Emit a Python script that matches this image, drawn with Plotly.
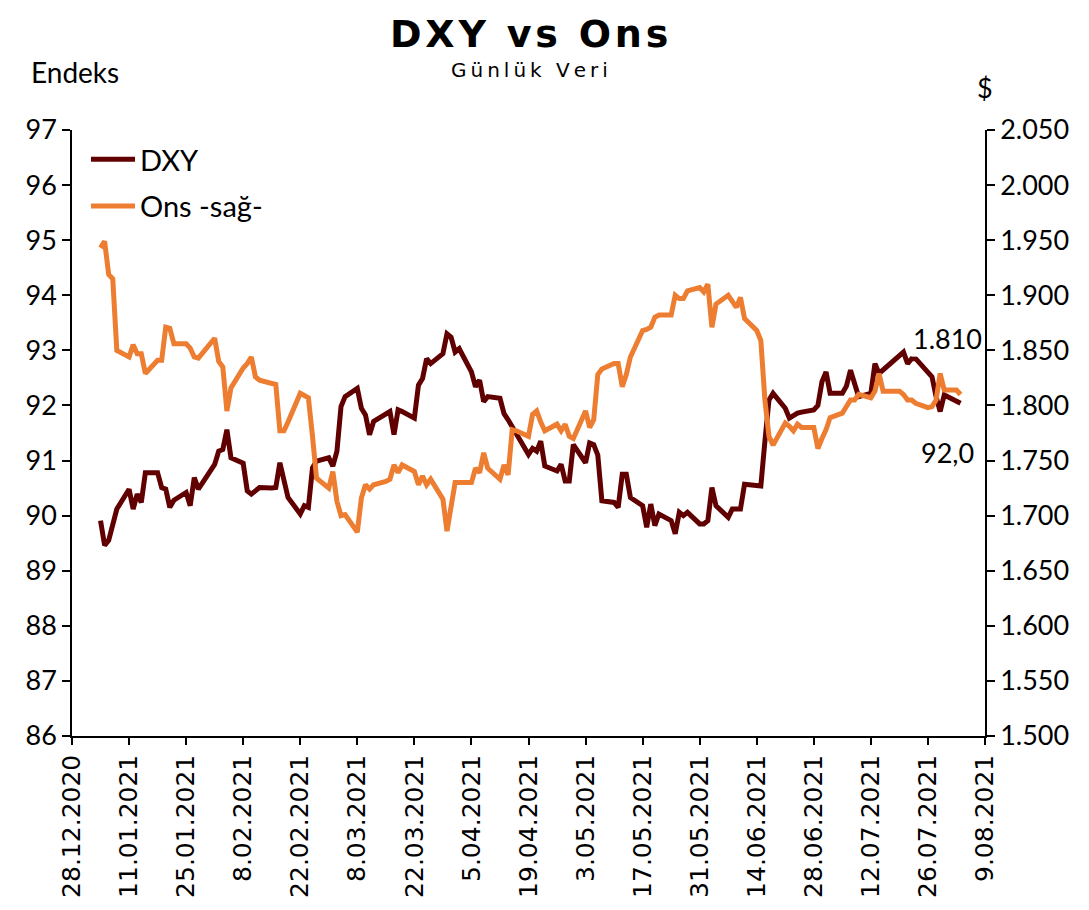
import plotly.graph_objects as go

# ---------------- data ----------------
dxy_dates = [
    "2021-01-04", "2021-01-05", "2021-01-06", "2021-01-08", "2021-01-11", "2021-01-12",
    "2021-01-13", "2021-01-14", "2021-01-15", "2021-01-18", "2021-01-19", "2021-01-20",
    "2021-01-21", "2021-01-22", "2021-01-25", "2021-01-26", "2021-01-27", "2021-01-28",
    "2021-02-01", "2021-02-02", "2021-02-03", "2021-02-04", "2021-02-05", "2021-02-08",
    "2021-02-09", "2021-02-10", "2021-02-11", "2021-02-12", "2021-02-15", "2021-02-16",
    "2021-02-17", "2021-02-18", "2021-02-19", "2021-02-22", "2021-02-23", "2021-02-24",
    "2021-02-25", "2021-02-26", "2021-03-01", "2021-03-02", "2021-03-03", "2021-03-04",
    "2021-03-05", "2021-03-08", "2021-03-09", "2021-03-10", "2021-03-11", "2021-03-12",
    "2021-03-15", "2021-03-16", "2021-03-17", "2021-03-18", "2021-03-19", "2021-03-22",
    "2021-03-23", "2021-03-24", "2021-03-25", "2021-03-26", "2021-03-29", "2021-03-30",
    "2021-03-31", "2021-04-01", "2021-04-02", "2021-04-05", "2021-04-06", "2021-04-07",
    "2021-04-08", "2021-04-09", "2021-04-12", "2021-04-13", "2021-04-14", "2021-04-15",
    "2021-04-16", "2021-04-19", "2021-04-20", "2021-04-21", "2021-04-22", "2021-04-23",
    "2021-04-26", "2021-04-27", "2021-04-28", "2021-04-29", "2021-04-30", "2021-05-03",
    "2021-05-04", "2021-05-05", "2021-05-06", "2021-05-07", "2021-05-10", "2021-05-11",
    "2021-05-12", "2021-05-13", "2021-05-14", "2021-05-17", "2021-05-18", "2021-05-19",
    "2021-05-20", "2021-05-21", "2021-05-24", "2021-05-25", "2021-05-26", "2021-05-27",
    "2021-05-28", "2021-05-31", "2021-06-01", "2021-06-02", "2021-06-03", "2021-06-04",
    "2021-06-07", "2021-06-08", "2021-06-09", "2021-06-10", "2021-06-11", "2021-06-14",
    "2021-06-15", "2021-06-16", "2021-06-17", "2021-06-18", "2021-06-21", "2021-06-22",
    "2021-06-23", "2021-06-24", "2021-06-25", "2021-06-28", "2021-06-29", "2021-06-30",
    "2021-07-01", "2021-07-02", "2021-07-05", "2021-07-06", "2021-07-07", "2021-07-08",
    "2021-07-09", "2021-07-12", "2021-07-13", "2021-07-14", "2021-07-20", "2021-07-21",
    "2021-07-22", "2021-07-23", "2021-07-26", "2021-07-27", "2021-07-28", "2021-07-29",
    "2021-07-30", "2021-08-02", "2021-08-03",
]
dxy_values = [
    89.91, 89.46, 89.55, 90.12, 90.48, 90.12,
    90.39, 90.24, 90.78, 90.78, 90.51, 90.48,
    90.15, 90.28, 90.42, 90.18, 90.69, 90.48,
    90.93, 91.17, 91.20, 91.56, 91.05, 90.95,
    90.45, 90.39, 90.45, 90.51, 90.50, 90.51,
    90.96, 90.63, 90.33, 90.03, 90.18, 90.15,
    90.87, 90.99, 91.05, 90.90, 91.17, 91.98,
    92.16, 92.31, 91.95, 91.83, 91.47, 91.71,
    91.83, 91.89, 91.47, 91.92, 91.89, 91.77,
    92.37, 92.49, 92.85, 92.76, 92.94, 93.30,
    93.24, 92.97, 93.03, 92.61, 92.34, 92.46,
    92.07, 92.16, 92.13, 91.85, 91.74, 91.62,
    91.50, 91.11, 91.22, 91.17, 91.35, 90.90,
    90.81, 90.93, 90.63, 90.63, 91.29, 90.96,
    91.32, 91.29, 91.10, 90.27, 90.24, 90.15,
    90.75, 90.75, 90.33, 90.18, 89.79, 90.21,
    89.82, 90.03, 89.91, 89.67, 90.06, 90.00,
    90.06, 89.85, 89.85, 89.91, 90.51, 90.18,
    89.97, 90.12, 90.12, 90.12, 90.57, 90.55,
    90.54, 91.35, 92.10, 92.22, 91.95, 91.77,
    91.82, 91.86, 91.88, 91.92, 92.00, 92.43,
    92.61, 92.22, 92.22, 92.35, 92.64, 92.40,
    92.16, 92.22, 92.76, 92.58, 92.97, 92.76,
    92.85, 92.85, 92.62, 92.52, 92.16, 91.89,
    92.19, 92.07, 92.04,
]

ons_dates = [
    "2021-01-04", "2021-01-05", "2021-01-06", "2021-01-07", "2021-01-08", "2021-01-11",
    "2021-01-12", "2021-01-13", "2021-01-14", "2021-01-15", "2021-01-18", "2021-01-19",
    "2021-01-20", "2021-01-21", "2021-01-22", "2021-01-25", "2021-01-26", "2021-01-27",
    "2021-01-28", "2021-02-01", "2021-02-02", "2021-02-03", "2021-02-04", "2021-02-05",
    "2021-02-08", "2021-02-09", "2021-02-10", "2021-02-11", "2021-02-12", "2021-02-15",
    "2021-02-16", "2021-02-17", "2021-02-18", "2021-02-19", "2021-02-22", "2021-02-23",
    "2021-02-24", "2021-02-25", "2021-02-26", "2021-03-01", "2021-03-02", "2021-03-03",
    "2021-03-04", "2021-03-05", "2021-03-08", "2021-03-09", "2021-03-10", "2021-03-11",
    "2021-03-12", "2021-03-15", "2021-03-16", "2021-03-17", "2021-03-18", "2021-03-19",
    "2021-03-22", "2021-03-23", "2021-03-24", "2021-03-25", "2021-03-26", "2021-03-29",
    "2021-03-30", "2021-04-01", "2021-04-05", "2021-04-06", "2021-04-07", "2021-04-08",
    "2021-04-09", "2021-04-12", "2021-04-13", "2021-04-14", "2021-04-15", "2021-04-16",
    "2021-04-19", "2021-04-20", "2021-04-21", "2021-04-22", "2021-04-23", "2021-04-26",
    "2021-04-27", "2021-04-28", "2021-04-29", "2021-04-30", "2021-05-03", "2021-05-04",
    "2021-05-05", "2021-05-06", "2021-05-07", "2021-05-10", "2021-05-11", "2021-05-12",
    "2021-05-13", "2021-05-14", "2021-05-17", "2021-05-18", "2021-05-19", "2021-05-20",
    "2021-05-21", "2021-05-24", "2021-05-25", "2021-05-26", "2021-05-27", "2021-05-28",
    "2021-05-31", "2021-06-01", "2021-06-02", "2021-06-03", "2021-06-04", "2021-06-07",
    "2021-06-08", "2021-06-09", "2021-06-10", "2021-06-11", "2021-06-14", "2021-06-15",
    "2021-06-16", "2021-06-17", "2021-06-18", "2021-06-21", "2021-06-22", "2021-06-23",
    "2021-06-24", "2021-06-25", "2021-06-28", "2021-06-29", "2021-06-30", "2021-07-01",
    "2021-07-02", "2021-07-05", "2021-07-06", "2021-07-07", "2021-07-08", "2021-07-09",
    "2021-07-12", "2021-07-13", "2021-07-14", "2021-07-15", "2021-07-16", "2021-07-19",
    "2021-07-20", "2021-07-21", "2021-07-22", "2021-07-23", "2021-07-26", "2021-07-27",
    "2021-07-28", "2021-07-29", "2021-07-30", "2021-08-02", "2021-08-03",
]
ons_values = [
    1943, 1949, 1919, 1915, 1850, 1844,
    1855, 1847, 1847, 1829, 1841, 1841,
    1871, 1870, 1856, 1856, 1852, 1844,
    1843, 1861, 1840, 1835, 1795, 1816,
    1834, 1838, 1844, 1826, 1823, 1820,
    1819, 1777, 1777, 1785, 1811, 1809,
    1807, 1772, 1734, 1725, 1740, 1713,
    1700, 1701, 1685, 1716, 1728, 1724,
    1728, 1731, 1733, 1746, 1739, 1746,
    1740, 1728, 1736, 1728, 1733, 1715,
    1686, 1730, 1730, 1743, 1739, 1757,
    1743, 1733, 1746, 1737, 1778, 1777,
    1772, 1792, 1795, 1785, 1777, 1783,
    1777, 1783, 1772, 1770, 1795, 1780,
    1787, 1828, 1833, 1838, 1838, 1817,
    1828, 1844, 1868, 1869, 1871, 1880,
    1882, 1882, 1900, 1897, 1897, 1904,
    1907, 1903, 1910, 1871, 1892, 1900,
    1894, 1889, 1898, 1879, 1868, 1859,
    1805, 1772, 1764, 1784, 1781, 1777,
    1783, 1780, 1780, 1761, 1770, 1778,
    1789, 1793, 1799, 1805, 1805, 1810,
    1807, 1813, 1829, 1813, 1813, 1813,
    1810, 1805, 1805, 1802, 1798, 1799,
    1805, 1829, 1814, 1814, 1810,
]

series_names = ["DXY", "Ons -sağ-"]
title_text = "DXY vs Ons"
subtitle_text = "Günlük Veri"
left_label = "Endeks"
right_label = "$"
last_ons_label = "1.810"
last_dxy_label = "92,0"

x_start, x_end = "2020-12-28", "2021-08-09"
left_range = [86, 97]
right_range = [1500, 2050]

# ---------------- figure ----------------
DXY_COLOR = "#600000"
ONS_COLOR = "#ED7D31"
SANS = "Lato, Liberation Sans, sans-serif"
TICK_FONT = dict(family=SANS, size=27, color="#000000")

fig = go.Figure()
fig.add_trace(go.Scatter(
    x=dxy_dates, y=dxy_values, name=series_names[0], mode="lines", legendgroup="a",
    line=dict(color=DXY_COLOR, width=5), yaxis="y",
))
fig.add_trace(go.Scatter(
    x=ons_dates, y=ons_values, name=series_names[1], mode="lines", legendgroup="b",
    line=dict(color=ONS_COLOR, width=5), yaxis="y2",
))

OFF = 8  # page body margin
W, H = 1089 - OFF, 910 - OFF
# plot area in page pixels
L, R, T, B = 72, 985, 130, 740


def py(pix):
    return (B - pix) / (B - T)


def px(pix):
    return (pix - L) / (R - L)


fig.update_layout(
    width=W, height=H,
    margin=dict(l=L - OFF, r=W - (R - OFF), t=T - OFF, b=H - (B - OFF), pad=0),
    paper_bgcolor="white", plot_bgcolor="white",
    separators=",.",
    showlegend=True,
    legend=dict(
        x=px(86), y=py(134), xanchor="left", yanchor="top",
        font=dict(family=SANS, size=29, color="#000"),
        bgcolor="rgba(255,255,255,0)", tracegroupgap=6, itemwidth=44,
    ),
    xaxis=dict(
        type="date", range=[x_start, x_end],
        tick0=x_start, dtick=14 * 86400000, tickformat="%-d.%m.%Y",
        tickangle=-90, showgrid=False, zeroline=False,
        showline=True, linecolor="#000", linewidth=1.5,
        ticks="outside", ticklen=7, tickcolor="#000", tickwidth=1.5,
        tickfont=dict(family="DejaVu Sans, sans-serif", size=25, color="#000"),
    ),
    yaxis=dict(
        range=left_range, dtick=1, tick0=86, showgrid=False, zeroline=False,
        showline=True, linecolor="#000", linewidth=1.5,
        ticks="outside", ticklen=8, tickcolor="#000", tickwidth=1.5,
        tickfont=TICK_FONT, tickformat="d",
    ),
    yaxis2=dict(
        range=right_range, dtick=50, tick0=1500, overlaying="y", side="right",
        showgrid=False, zeroline=False,
        showline=True, linecolor="#000", linewidth=1.5,
        ticks="outside", ticklen=8, tickcolor="#000", tickwidth=1.5,
        tickfont=TICK_FONT, tickformat=",.0f",
    ),
)

annos = [
    dict(text="<b>" + "\u200a".join(list(title_text)) + "</b>", x=px(529), y=py(OFF + 1),
         yanchor="top",
         font=dict(family="DejaVu Sans, sans-serif", size=38, color="#000")),
    dict(text="\u2009".join(list(subtitle_text)), x=px(529), y=py(70),
         font=dict(family="DejaVu Sans, sans-serif", size=20, color="#000")),
    dict(text=left_label, x=px(75), y=py(72),
         font=dict(family=SANS, size=28, color="#000")),
    dict(text=right_label, x=px(985), y=py(87),
         font=dict(family=SANS, size=27, color="#000")),
    dict(text=last_ons_label, x=px(947), y=py(340), bgcolor="white",
         font=dict(family=SANS, size=27, color="#000")),
    dict(text=last_dxy_label, x=px(947), y=py(455),
         font=dict(family=SANS, size=27, color="#000")),
]
for a in annos:
    a.setdefault("yanchor", "middle")
    a.update(xref="paper", yref="paper", showarrow=False, xanchor="center")
    fig.add_annotation(**a)

fig.write_html("out.html")
